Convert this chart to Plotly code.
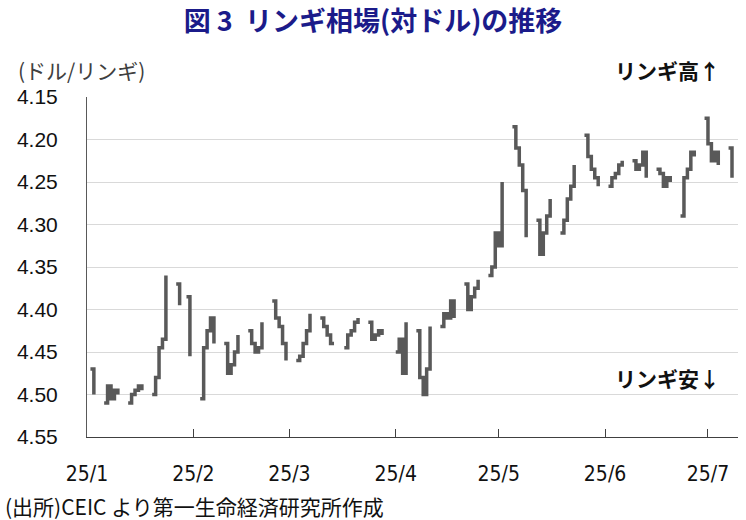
import pandas as pd
import plotly.graph_objects as go

# Business days Jan 2 - Jul 8, 2025; None = no quote (holiday)
start_date = "2025-01-02"
end_date = "2025-07-08"
usdmyr = [
    4.47, 4.50,                          # Jan 2-3
    4.51, 4.49, 4.505, 4.495, 4.50,      # Jan 6-10
    4.51, 4.50, 4.495, 4.49, 4.495,      # Jan 13-17
    4.50, 4.48, 4.445, 4.435, 4.36,      # Jan 20-24
    4.37, 4.395, None, 4.385, 4.455,     # Jan 27-31
    4.505, 4.445, 4.425, 4.41, 4.44,     # Feb 3-7
    4.44, 4.475, 4.465, 4.45, 4.43,      # Feb 10-14
    4.425, 4.44, 4.45, 4.445, 4.415,     # Feb 17-21
    4.39, 4.41, 4.42, 4.44, 4.46,        # Feb 24-28
    4.46, 4.455, 4.44, 4.425, 4.405,     # Mar 3-7
    4.41, 4.42, 4.43, 4.44, 4.44,        # Mar 10-14
    4.445, 4.43, 4.425, 4.415, 4.41,     # Mar 17-21
    4.415, 4.435, 4.43, 4.425, 4.43,     # Mar 24-28
    None, 4.45, 4.435, 4.475, 4.415,     # Mar 31-Apr 4
    4.425, 4.48, 4.50, 4.47, 4.42,       # Apr 7-11
    4.42, 4.405, 4.41, 4.39, 4.41,       # Apr 14-18
    4.37, 4.40, 4.385, 4.375, 4.365,     # Apr 21-25
    4.36, 4.35, 4.31, 4.325, 4.25,       # Apr 28-May 2
    4.185, 4.21, 4.23, 4.26, 4.315,      # May 5-9
    4.295, 4.335, 4.31, 4.29, 4.27,      # May 12-16
    4.31, 4.295, 4.27, 4.255, 4.23,      # May 19-23
    4.195, 4.22, 4.235, 4.245, 4.255,    # May 26-30
    4.255, 4.245, 4.24, 4.23, 4.225,     # Jun 2-6
    4.225, 4.235, 4.23, 4.215, 4.245,    # Jun 9-13
    4.235, 4.24, 4.255, 4.245, 4.25,     # Jun 16-20
    4.29, 4.245, 4.235, 4.215, 4.22,     # Jun 23-27
    4.175, 4.205, 4.225, 4.215, 4.23,    # Jun 30-Jul 4
    4.21, 4.245,                         # Jul 7-8
]
month_ticks = ["2025-01-01", "2025-02-01", "2025-03-01", "2025-04-01",
               "2025-05-01", "2025-06-01", "2025-07-01"]
month_labels = ["25/1", "25/2", "25/3", "25/4", "25/5", "25/6", "25/7"]
y_ticks = [4.15, 4.20, 4.25, 4.30, 4.35, 4.40, 4.45, 4.50, 4.55]

dates = pd.bdate_range(start_date, end_date)
assert len(dates) == len(usdmyr), (len(dates), len(usdmyr))

# break the line over weekends
xs, ys = [], []
for i, (d, v) in enumerate(zip(dates, usdmyr)):
    if i > 0 and (d - dates[i - 1]).days > 1:
        xs.append(dates[i - 1] + pd.Timedelta(days=1))
        ys.append(None)
    xs.append(d)
    ys.append(v)

jp = "Noto Sans CJK JP"
num_font = "Liberation Sans, Arial, sans-serif"
narrow_font = "Liberation Sans Narrow, Arial Narrow, DejaVu Sans Condensed, Liberation Sans"

fig = go.Figure()
fig.add_trace(go.Scatter(
    x=xs, y=ys, mode="lines",
    line=dict(color="#595959", width=3.5, shape="hv"),
    connectgaps=False, hoverinfo="skip", showlegend=False,
))

L, R, T, B = 87, 8, 97, 83
W, H = 746, 520
pw, ph = W - L - R, H - T - B

def px(x):
    return (x - L) / pw

def py(y):
    return (H - B - y) / ph

fig.update_layout(
    width=W, height=H,
    margin=dict(l=L, r=R, t=T, b=B, autoexpand=False),
    paper_bgcolor="white", plot_bgcolor="white",
    title=dict(
        text="図 3  リンギ相場(対ドル)の推移",
        x=0.5, xanchor="center", y=1 - 22 / H, yanchor="middle",
        font=dict(family=jp, size=27, color="#1b1b8a", weight="bold"),
    ),
    xaxis=dict(
        type="date", automargin=False,
        range=["2025-01-01", "2025-07-09 18:00"],
        tickvals=month_ticks, ticktext=month_labels,
        ticks="inside", ticklen=8, tickcolor="#404040", tickwidth=1,
        showline=True, linecolor="#404040", linewidth=1,
        showgrid=False, zeroline=False,
        tickfont=dict(family=narrow_font, size=21, color="#111111"),
        ticklabelstandoff=18,
    ),
    yaxis=dict(
        range=[4.55, 4.15], automargin=False,
        tickvals=y_ticks, tickformat=".2f",
        ticks="", showline=True, linecolor="#595959", linewidth=1,
        showgrid=True, gridcolor="#d9d9d9", gridwidth=1, zeroline=False,
        tickfont=dict(family=num_font, size=21, color="#111111"),
        ticklabelstandoff=24,
    ),
)

annots = [
    dict(text="(ドル/リンギ)", x=px(16), y=py(70), xanchor="left", yanchor="middle",
         font=dict(family=jp, size=21, color="#404040")),
    dict(text="<b>リンギ高↑</b>", x=px(722), y=py(70), xanchor="right", yanchor="middle",
         font=dict(family=jp, size=21, color="#111111")),
    dict(text="<b>リンギ安↓</b>", x=px(722), y=py(378), xanchor="right", yanchor="middle",
         font=dict(family=jp, size=21, color="#111111")),
    dict(text="(出所)CEIC より第一生命経済研究所作成", x=px(3), y=py(506),
         xanchor="left", yanchor="middle",
         font=dict(family=jp, size=21, color="#111111")),
]
for a in annots:
    fig.add_annotation(xref="paper", yref="paper", showarrow=False, **a)

fig.write_html(
    "out.html",
    config={"displayModeBar": False},
    post_script="document.body.style.margin='0';document.body.style.padding='0';",
)
